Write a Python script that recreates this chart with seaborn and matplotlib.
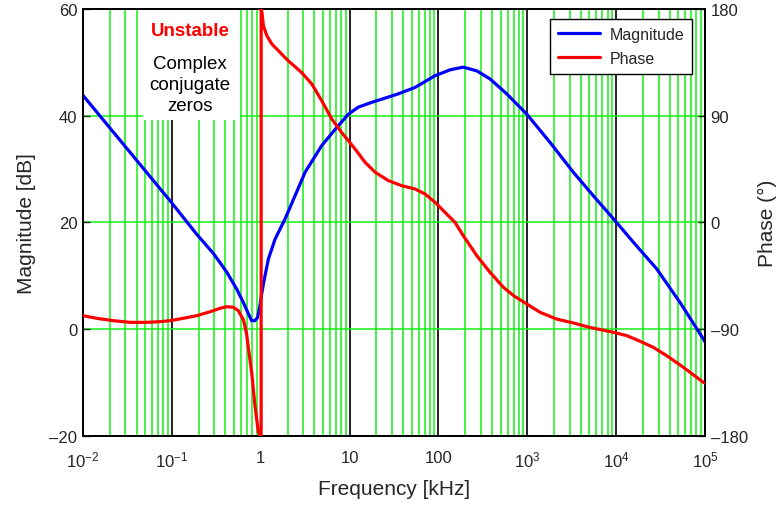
import numpy as np
import pandas as pd
import seaborn as sns
import matplotlib.pyplot as plt
from matplotlib.patches import Rectangle
from matplotlib.lines import Line2D

sns.set_style("white")
plt.rcParams['font.family'] = ['Liberation Sans', 'DejaVu Sans']
plt.rcParams['mathtext.fontset'] = 'custom'
plt.rcParams['mathtext.rm'] = 'Liberation Sans'

# ---------- data (frequency in kHz) ----------
freq_mag = [0.01, 0.095, 0.19, 0.293, 0.414, 0.537, 0.637, 0.725, 0.79, 0.86,
            0.92, 0.97, 1.03, 1.1, 1.22, 1.45, 1.88, 2.43, 3.15, 3.91, 4.85, 7.16,
            9.7, 12.5, 17.7, 27.3, 35.3, 54.5, 91.5, 135, 190, 270, 380, 586,
            984, 1800, 3296, 5530, 9290, 15600, 28580, 52300, 95500, 100000]
mag_db = [43.8, 24.1, 17.8, 14.2, 10.7, 7.5, 5.0, 2.9, 1.6, 1.6,
          2.2, 4.0, 6.9, 9.5, 13.2, 16.9, 20.7, 25.0, 29.4, 31.9, 34.4, 37.8,
          40.3, 41.6, 42.5, 43.5, 44.1, 45.3, 47.5, 48.6, 49.1, 48.4, 46.9, 44.1,
          40.3, 35.0, 29.4, 25.0, 20.7, 16.3, 11.3, 5.0, -1.8, -2.4]

freq_ph = [0.01, 0.0143, 0.0219, 0.0338, 0.052, 0.0736, 0.095, 0.134, 0.19, 0.27,
           0.346, 0.414, 0.49, 0.56, 0.637, 0.69, 0.72, 0.79, 0.86, 0.94,
           1.01, 1.01, 1.03, 1.07, 1.17, 1.33, 1.58, 2.03, 2.87, 3.75, 4.85, 6.29,
           8.1, 11.5, 14.9, 19.4, 27.3, 38.6, 54.6, 70.6, 91.5, 118.6, 153, 190,
           270, 380, 537, 700, 984, 1390, 2130, 3296, 5000, 9290, 13150, 18000,
           26200, 37000, 57000, 95500, 100000]
phase_deg = [-78.6, -80.8, -82.8, -84.2, -84.2, -83.6, -82.8, -80.8, -78.6, -75.2,
             -72.4, -71.0, -71.5, -74.4, -82.0, -93.0, -103.9, -126.3, -154.4, -176.9,
             -180.0, 180.0, 177.2, 165.9, 157.5, 150.5, 144.8, 136.4, 126.6, 116.8, 102.7, 87.3,
             76.0, 62.0, 50.8, 42.3, 35.3, 31.0, 28.2, 24.0, 17.0, 8.5, 0.2, -11.1,
             -28.0, -42.0, -54.6, -61.7, -68.7, -75.7, -81.4, -84.7, -88.4, -92.6, -95.4, -99.7,
             -105.3, -112.3, -122.1, -134.7, -135.5]

mag = pd.DataFrame({'f': freq_mag, 'db': mag_db})
ph = pd.DataFrame({'f': freq_ph, 'deg': phase_deg})

x_ticks = [1e-2, 1e-1, 1, 10, 100, 1e3, 1e4, 1e5]
x_ticklabels = [r'$\mathregular{10^{-2}}$', r'$\mathregular{10^{-1}}$', '1', '10', '100',
                r'$\mathregular{10^{3}}$', r'$\mathregular{10^{4}}$', r'$\mathregular{10^{5}}$']
mag_ticks = [-20, 0, 20, 40, 60]
ph_ticks = [-180, -90, 0, 90, 180]

green = '#14f014'

fig = plt.figure(figsize=(7.79, 5.06), dpi=100)
ax = fig.add_axes([0.1066, 0.1364, 0.7985, 0.8439])
ax2 = ax.twinx()

# grid: green minor verticals, black decades, green horizontals
ax.set_xscale('log')
ax.set_xlim(1e-2, 1e5)
ax.set_ylim(-20, 60)
ax.set_axisbelow(True)
ax.xaxis.set_minor_locator(plt.LogLocator(base=10, subs=np.arange(2, 10)))
ax.grid(which='minor', axis='x', color=green, lw=1.1)
ax.grid(which='major', axis='x', color='#222222', lw=1.4)
ax.grid(which='major', axis='y', color=green, lw=1.1)

# white box behind the annotation
ax.add_patch(Rectangle((0.0965, 0.74), 0.156, 0.27, transform=ax.transAxes,
                       facecolor='white', edgecolor='none', zorder=1, clip_on=True))

sns.lineplot(data=mag, x='f', y='db', ax=ax, color='#0000ff', lw=2.3,
             estimator=None, sort=False, zorder=3)
sns.lineplot(data=ph, x='f', y='deg', ax=ax2, color='#ff0000', lw=2.3,
             estimator=None, sort=False, zorder=3)

ax2.set_ylim(-180, 180)
ax2.set_xscale('log')
ax2.set_xlim(1e-2, 1e5)

ax.set_xticks(x_ticks)
ax.set_xticklabels(x_ticklabels, fontsize=12)
ax.set_yticks(mag_ticks)
ax.set_yticklabels([str(v).replace('-', '\u2013') for v in mag_ticks], fontsize=12)
ax2.set_yticks(ph_ticks)
ax2.set_yticklabels([str(v).replace('-', '\u2013') for v in ph_ticks], fontsize=12)

ax.tick_params(axis='x', which='both', length=0, pad=10)
ax.tick_params(axis='y', direction='in', length=5, width=1, pad=4)
ax2.tick_params(axis='y', direction='in', length=5, width=1, pad=4)

ax.set_xlabel('Frequency [kHz]', fontsize=15, labelpad=7)
ax.set_ylabel('Magnitude [dB]', fontsize=15, labelpad=10)
ax2.set_ylabel('Phase (\u00b0)', fontsize=15, labelpad=7)

for a in (ax, ax2):
    for s in a.spines.values():
        s.set_color('black')
        s.set_linewidth(1.3)

ax.text(0.172, 0.95, 'Unstable', transform=ax.transAxes, color='#ff0000',
        fontsize=13.5, fontweight='bold', ha='center', va='center', zorder=4)
ax.text(0.172, 0.824, 'Complex\nconjugate\nzeros', transform=ax.transAxes, color='black',
        fontsize=13.5, ha='center', va='center', linespacing=1.3, zorder=4)

handles = [Line2D([], [], color='#0000ff', lw=2.3), Line2D([], [], color='#ff0000', lw=2.3)]
leg = ax2.legend(handles, ['Magnitude', 'Phase'], loc='upper right', fontsize=11.5,
                 bbox_to_anchor=(0.979, 0.977), borderaxespad=0, frameon=True, fancybox=False,
                 handlelength=2.6, handletextpad=0.6, borderpad=0.5, labelspacing=0.55,
                 framealpha=1)
leg.get_frame().set_edgecolor('black')
leg.get_frame().set_linewidth(1.0)

fig.savefig('out.png', dpi=100)
